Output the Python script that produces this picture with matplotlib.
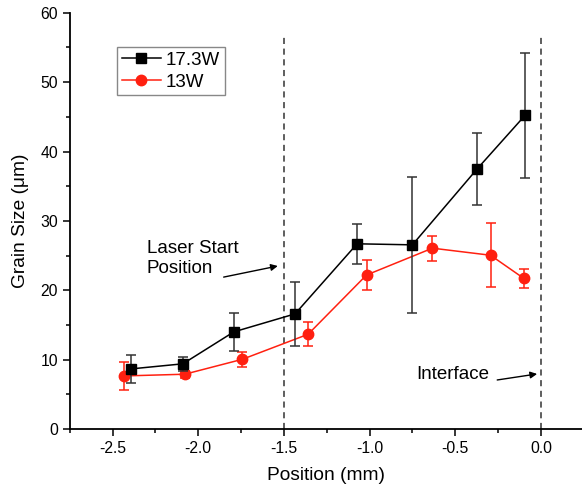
import matplotlib.pyplot as plt
from matplotlib.lines import Line2D
from matplotlib.ticker import MultipleLocator

plt.rcParams['font.family'] = ['Liberation Sans', 'DejaVu Sans']

# 17.3W
x_high = [-2.395, -2.09, -1.793, -1.435, -1.073, -0.75, -0.372, -0.093]
y_high = [8.66, 9.4, 14.0, 16.6, 26.7, 26.55, 37.5, 45.2]
err_high = [2.0, 1.0, 2.7, 4.6, 2.9, 9.8, 5.2, 9.0]

# 13W
x_low = [-2.436, -2.079, -1.743, -1.359, -1.018, -0.633, -0.294, -0.099]
y_low = [7.65, 7.9, 10.05, 13.66, 22.2, 26.07, 25.05, 21.7]
err_low = [2.05, 0.5, 1.1, 1.7, 2.1, 1.8, 4.6, 1.3]

line_pos = [-1.5, 0.0]

red = '#ff2010'

fig = plt.figure(figsize=(5.82, 4.92), dpi=100)
ax = fig.add_axes([0.12, 0.128, 0.88, 0.846])

ax.vlines(line_pos, 0, 57, colors='#333333', linestyles=(0, (4, 3)), lw=1.1)

ax.errorbar(x_low, y_low, yerr=err_low, color=red, marker='o', ms=7.5,
            lw=1.1, capsize=3.5, elinewidth=1.1, capthick=1.1, zorder=3)
ax.errorbar(x_high, y_high, yerr=err_high, color='black', ecolor='#333333',
            marker='s', ms=6.5, lw=1.1, capsize=3.5, elinewidth=1.1, capthick=1.1,
            zorder=4)

# annotations
ax.text(-2.30, 24.6, 'Laser Start\nPosition', fontsize=13.5, va='center', ha='left',
        linespacing=1.2)
ax.annotate('', xy=(-1.536, 23.5), xytext=(-1.852, 21.9),
            arrowprops=dict(arrowstyle='-|>', color='black', lw=1, shrinkA=0, shrinkB=0,
                            mutation_scale=10))
ax.text(-0.725, 7.9, 'Interface', fontsize=13.5, va='center', ha='left')
ax.annotate('', xy=(-0.022, 7.94), xytext=(-0.255, 7.07),
            arrowprops=dict(arrowstyle='-|>', color='black', lw=1, shrinkA=0, shrinkB=0,
                            mutation_scale=10))

ax.set_xlim(-2.75, 0.24)
ax.set_ylim(0, 60)
ax.xaxis.set_major_locator(MultipleLocator(0.5))
ax.xaxis.set_minor_locator(MultipleLocator(0.25))
ax.yaxis.set_major_locator(MultipleLocator(10))
ax.yaxis.set_minor_locator(MultipleLocator(5))
ax.tick_params(which='major', direction='out', length=5, width=1.1, labelsize=11.3)
ax.tick_params(which='minor', direction='out', length=3, width=1.1)
ax.xaxis.set_major_formatter(plt.FuncFormatter(lambda v, p: f'{v:.1f}'))

for s in ['top', 'right']:
    ax.spines[s].set_visible(False)
for s in ['left', 'bottom']:
    ax.spines[s].set_linewidth(1.3)

ax.set_xlabel('Position (mm)', fontsize=13.8, labelpad=8)
ax.set_ylabel('Grain Size (\u03bcm)', fontsize=13.8, labelpad=8)

handles = [Line2D([], [], color='black', marker='s', ms=6.5, lw=1.1),
           Line2D([], [], color=red, marker='o', ms=7.5, lw=1.1)]
leg = ax.legend(handles, ['17.3W', '13W'], loc='upper left', bbox_to_anchor=(0.092, 0.918),
                borderaxespad=0, fontsize=13.5, fancybox=False, framealpha=1,
                edgecolor='#888888', handlelength=2.1, borderpad=0.25, labelspacing=0.25,
                handletextpad=0.25)
leg.get_frame().set_linewidth(1)

fig.savefig('out.png', dpi=100)
